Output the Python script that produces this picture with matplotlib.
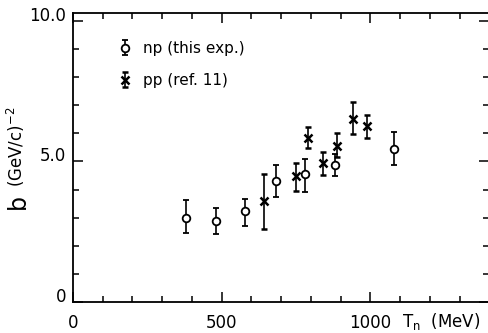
import matplotlib
matplotlib.use("Agg")
from matplotlib import pyplot as plt
from matplotlib.ticker import MultipleLocator

# np data (this experiment)
np_t = [380, 481, 580, 682, 781, 881, 1078]
np_b = [3.00, 2.89, 3.23, 4.32, 4.54, 4.89, 5.45]
np_lo = [0.55, 0.47, 0.54, 0.59, 0.62, 0.41, 0.59]
np_hi = [0.64, 0.46, 0.45, 0.55, 0.53, 0.36, 0.60]

# pp data (ref. 11)
pp_t = [642, 750, 790, 840, 887, 941, 988]
pp_b = [3.58, 4.48, 5.85, 4.95, 5.55, 6.50, 6.26]
pp_lo = [0.97, 0.54, 0.39, 0.44, 0.40, 0.54, 0.41]
pp_hi = [0.96, 0.47, 0.39, 0.40, 0.46, 0.63, 0.39]

x_ticks = [0, 500, 1000]
y_ticks = [0, 5, 10]
y_ticklabels = ["0", "5.0", "10.0"]

plt.rcParams['font.family'] = ['DejaVu Sans']
fig = plt.figure(figsize=(4.88, 3.33), dpi=100)
ax = fig.add_axes([0.1496, 0.0931, 0.853, 0.868])

ax.errorbar(np_t, np_b, yerr=[np_lo, np_hi], fmt='o', ms=5.5, mfc='white',
            mec='black', mew=1.3, ecolor='black', elinewidth=1.2,
            capsize=2.5, capthick=1.2, color='black', label='np (this exp.)')
ax.errorbar(pp_t, pp_b, yerr=[pp_lo, pp_hi], fmt='x', ms=6, mew=1.8,
            ecolor='black', elinewidth=1.2, capsize=2.5, capthick=1.2,
            color='black', label='pp (ref. 11)')

ax.set_xlim(0, 1400)
ax.set_ylim(0, 10.28)
ax.set_xticks(x_ticks)
ax.set_yticks(y_ticks)
ax.set_yticklabels(y_ticklabels)
ax.xaxis.set_minor_locator(MultipleLocator(100))
ax.yaxis.set_minor_locator(MultipleLocator(1))
ax.tick_params(which='both', direction='in', top=True, right=True,
               labelsize=12, width=1.1)
ax.tick_params(which='major', length=7)
ax.tick_params(which='minor', length=4)
ax.tick_params(axis='x', pad=9)
ax.tick_params(axis='y', pad=5)
for lab in ax.get_yticklabels():
    lab.set_va('baseline')
for s in ax.spines.values():
    s.set_linewidth(1.3)

ax.legend(loc='upper left', bbox_to_anchor=(0.08, 0.95), frameon=False,
          fontsize=11, handlelength=0.6, handletextpad=0.9, labelspacing=1.1)

ax.set_xlabel("T$_\\mathregular{n}$  (MeV)", fontsize=12)
ax.xaxis.set_label_coords(0.885, -0.03)

fig.text(0.036, 0.395, "b", rotation=90, fontsize=17, ha='center', va='center')
fig.text(0.032, 0.558, "(GeV/c)$^{-2}$", rotation=90, fontsize=12,
         ha='center', va='center')

fig.savefig("out.png", dpi=100)
